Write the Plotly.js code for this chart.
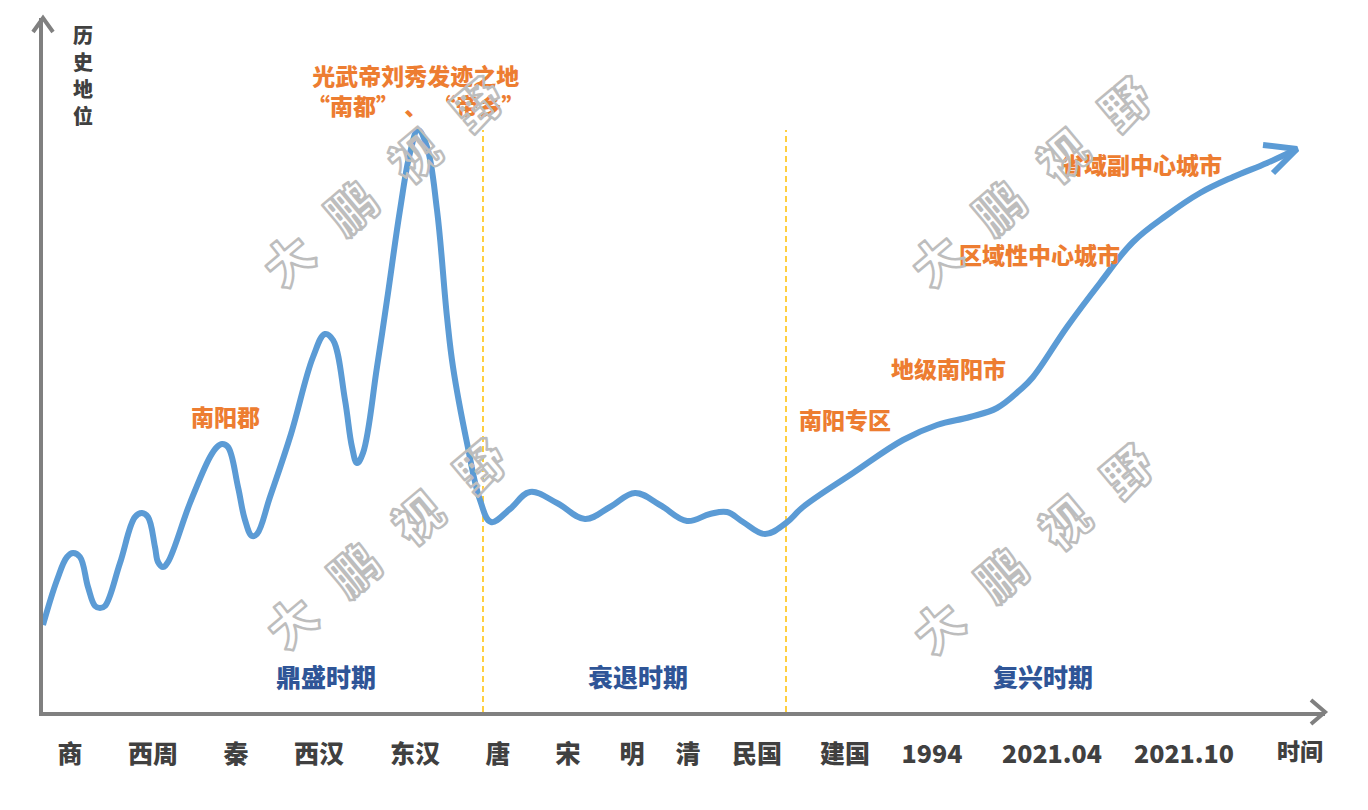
<!DOCTYPE html>
<html>
<head>
<meta charset="utf-8">
<script src="https://cdn.plot.ly/plotly-3.0.1.min.js"></script>
<style>
  html, body { margin: 0; padding: 0; background: #fff; }
  #chart { width: 1368px; height: 810px; }
</style>
</head>
<body>
<div id="chart"></div>
<script>
// ---- data (x: time position along axis, y: historical status) ----
const timeX = [0,14,24,30,37,45,52,57,62,77,92,99,105,112,115,120,125,147,167,174,179,185,195,202,209,214,227,248,270,282,290,302,309,314,320,334,344,357,367,375,384,394,404,410,424,437,448,467,487,514,542,567,592,617,644,667,684,700,722,743,760,810,860,894,927,954,977,990,1024,1057,1090,1124,1157,1190,1224,1254];
const statusY = [87,132,155,159,155,125,106,104,106,149,195,199,195,165,150,145,150,209,255,265,268,265,225,192,176,178,215,278,355,378,372,312,265,249,259,345,412,502,559,582,565,502,395,345,269,212,190,203,220,209,193,205,219,207,191,198,200,190,178,189,205,239,272,287,295,304,322,335,385,429,470,497,519,535,549,563];

const tickLabels = ['商','西周','秦','西汉','东汉','唐','宋','明','清','民国','建国','1994','2021.04','2021.10'];
const tickPos    = [27,110,193,276,372,455,525,589,645,714,802,889,1009,1141];

const periodNames = ['鼎盛时期','衰退时期','复兴时期'];
const periodPos   = [283,595,1000];
const periodBounds = [440,743];

const milestoneTexts = ['光武帝刘秀发迹之地<br>“南都” 、 “帝乡”','南阳郡','南阳专区','地级南阳市','区域性中心城市','省域副中心城市'];
const milestoneX = [373,182,802,905,996,1098];
const milestoneY = [622,296,293,344,458,548];

const yTitleChars = ['历','史','地','位'];
const watermarkChars = ['大','鹏','视','野'];

// ---- styling ----
const FONT = '"Noto Sans CJK SC", "Noto Sans", sans-serif';
const BLUE = '#5b9bd5';
const ORANGE = '#ed7d31';
const NAVY = '#2f5597';
const AXIS = '#808080';
const XMAX = 1282, YMAX = 694;

const curve = {
  x: timeX, y: statusY, type: 'scatter', mode: 'lines',
  line: { color: BLUE, width: 6, shape: 'spline', smoothing: 1.1 },
  hoverinfo: 'skip', showlegend: false
};
// open arrowhead at curve end, anchored on the last data point
const n = timeX.length;
const tipX = timeX[n-1], tipY = statusY[n-1];
const arrowHead = {
  x: [tipX - 34, tipX, tipX - 24], y: [tipY + 4, tipY, tipY - 24],
  type: 'scatter', mode: 'lines',
  line: { color: BLUE, width: 6 }, hoverinfo: 'skip', showlegend: false
};

const annotations = [];
milestoneTexts.forEach((t, i) => annotations.push({
  x: milestoneX[i], y: milestoneY[i], xref: 'x', yref: 'y', text: t, showarrow: false,
  font: { family: FONT, size: 23, color: ORANGE, weight: 900 }
}));
periodNames.forEach((t, i) => annotations.push({
  x: periodPos[i], y: 36, xref: 'x', yref: 'y', text: t, showarrow: false,
  font: { family: FONT, size: 25, color: NAVY, weight: 900 }
}));
annotations.push({
  x: 1257 / XMAX, y: -38 / YMAX, xref: 'paper', yref: 'paper', text: '时间', showarrow: false,
  xanchor: 'center', yanchor: 'middle',
  font: { family: FONT, size: 23, color: '#404040', weight: 900 }
});
yTitleChars.forEach((c, k) => annotations.push({
  x: 40, y: 678 - k * 27, xref: 'x', yref: 'y', text: c, showarrow: false,
  xanchor: 'center', yanchor: 'middle',
  font: { family: FONT, size: 20, color: '#404040', weight: 900 }
}));
// watermarks
const wmStarts = [[244,454],[247,92],[892,454],[894,87]];
wmStarts.forEach(([sx, sy]) => {
  watermarkChars.forEach((c, k) => annotations.push({
    x: sx + k * 63, y: sy + k * 52, xref: 'x', yref: 'y', text: c, showarrow: false,
    textangle: -40,
    font: { family: FONT, size: 48, color: 'rgba(255,255,255,0)', weight: 900 }
  }));
});

const shapes = [];
periodBounds.forEach(b => shapes.push({
  type: 'line', xref: 'x', yref: 'y', x0: b, x1: b, y0: 0, y1: 582,
  line: { color: '#ffc000', width: 1.5, dash: '6px,4px' }, layer: 'below'
}));
// axis arrowheads (paper coords from pixel offsets)
const px = v => v / XMAX, py = v => v / YMAX;
shapes.push({
  type: 'path', xref: 'paper', yref: 'paper',
  path: `M ${px(-10)},${py(YMAX-14)} L 0,1 L ${px(10)},${py(YMAX-14)}`,
  line: { color: AXIS, width: 4 }
});
shapes.push({
  type: 'path', xref: 'paper', yref: 'paper',
  path: `M ${px(XMAX-14)},${py(12)} L 1,0 L ${px(XMAX-14)},${py(-12)}`,
  line: { color: AXIS, width: 4 }
});

const layout = {
  width: 1368, height: 810,
  margin: { l: 43, r: 43, t: 18, b: 98 },
  paper_bgcolor: '#ffffff', plot_bgcolor: '#ffffff',
  showlegend: false,
  xaxis: {
    range: [0, XMAX], showgrid: false, zeroline: false,
    showline: true, linecolor: AXIS, linewidth: 4,
    tickvals: tickPos, ticktext: tickLabels, ticks: '',
    ticklabelstandoff: 17,
    tickfont: { family: FONT, size: 25, color: '#404040', weight: 900 },
    fixedrange: true
  },
  yaxis: {
    range: [0, YMAX], showgrid: false, zeroline: false,
    showline: true, linecolor: AXIS, linewidth: 4,
    showticklabels: false, ticks: '', fixedrange: true
  },
  annotations, shapes
};

const gd = document.getElementById('chart');
function outlineWatermarks() {
  const set = new Set(watermarkChars);
  gd.querySelectorAll('.annotation-text').forEach(el => {
    if (set.has(el.textContent)) {
      el.style.stroke = '#bdbdbd';
      el.style.strokeWidth = '2.5px';
      el.style.strokeLinejoin = 'round';
    }
  });
}
Plotly.newPlot(gd, [curve, arrowHead], layout, { displayModeBar: false, staticPlot: true })
  .then(outlineWatermarks);
gd.on && gd.on('plotly_afterplot', outlineWatermarks);
</script>
</body>
</html>
